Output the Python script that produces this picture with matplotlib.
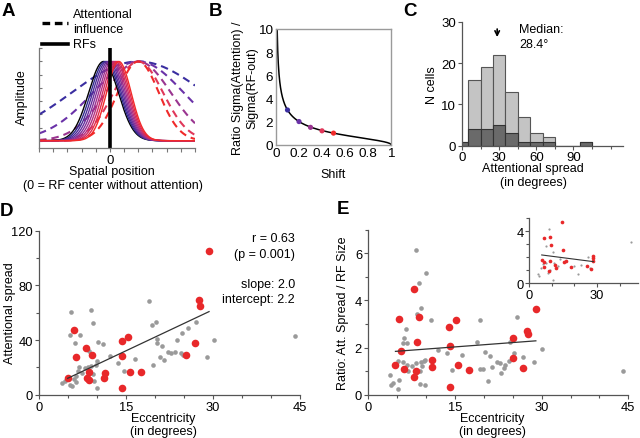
import numpy as np
import matplotlib
matplotlib.use('Agg')
import matplotlib.pyplot as plt
from matplotlib.lines import Line2D
from matplotlib.ticker import MultipleLocator

plt.rcParams['font.family'] = ['Liberation Sans', 'DejaVu Sans']
FS = 9.0
plt.rcParams['font.size'] = FS

# ---------------- data ----------------
# Panel A: model curves (gaussian parameters)
rf_centers = [-0.45, -0.33, -0.21, -0.09, 0.03, 0.15, 0.27, 0.39, 0.51, 0.63]
rf_sigmas = [1.05, 1.03, 1.01, 0.99, 0.97, 0.95, 0.93, 0.91, 0.89, 0.87]
rf_colors = ['#000000', '#2e2a8c', '#4a2c98', '#652e9c', '#80309a',
             '#9a3090', '#b52e7e', '#cc2c66', '#e22a4a', '#f22a2a']
att_centers = [2.0, 2.0, 2.0, 2.0, 2.0]
att_sigmas = [4.7, 3.2, 2.3, 1.75, 1.45]
att_colors = ['#3a2ea0', '#6a32a8', '#9a3590', '#e0385a', '#f02a2a']

# Panel B
shift_pts = [0.1, 0.2, 0.3, 0.4, 0.5]
ratio_pts = [3.0, 2.0, 1.5, 1.2, 1.0]

# Panel C
bin_centers = [0, 10, 20, 30, 40, 50, 60, 70, 80, 90, 100]
all_counts = [1, 16, 19, 22, 13, 7, 3, 2, 0, 0, 1]
sub_counts = [1, 4, 4, 5, 3, 1, 1, 1, 0, 0, 1]
median_spread = 28.4

# Panel D
red_ecc_D = [29.3, 27.6, 27.7, 26.8, 25.3, 6.0, 6.3, 4.9, 8.0, 9.1, 8.5,
             8.2, 8.5, 11.3, 11.2, 14.2, 14.3, 14.3, 15.3, 15.7, 17.6]
red_spread_D = [105.4, 69.3, 65.1, 37.6, 29.3, 47.3, 27.3, 12.2, 33.9, 28.8, 16.8,
                12.0, 11.0, 15.6, 12.2, 39.5, 28.5, 4.6, 42.0, 16.3, 16.8]
gray_ecc_D = [3.9, 4.4, 5.3, 5.7, 6.0, 6.3, 6.6, 6.9, 7.9, 8.4, 9.0, 9.3, 9.5,
              10.0, 9.8, 10.0, 8.6, 5.4, 8.9, 9.3, 5.3, 7.0, 6.1, 10.2, 11.0,
              12.2, 13.6, 14.6, 16.5, 19.0, 19.5, 20.1, 20.3, 20.4, 21.2, 20.9,
              21.6, 19.6, 22.3, 22.7, 23.4, 23.7, 24.6, 25.7, 27.0, 24.4, 24.8,
              28.9, 30.1, 44.2, 7.4, 6.4]
gray_spread_D = [8.3, 9.8, 7.3, 6.1, 11.5, 13.9, 17.1, 20.0, 19.5, 20.5, 21.2, 15.1, 10.2,
                 4.9, 22.0, 24.9, 32.2, 60.7, 62.0, 52.2, 43.9, 43.9, 38.0, 38.3, 37.1,
                 28.5, 23.2, 17.6, 26.1, 68.3, 51.0, 52.9, 40.7, 37.8, 35.4, 27.8,
                 25.4, 21.5, 31.5, 30.5, 31.5, 40.2, 45.1, 49.0, 52.9, 30.5, 29.0,
                 27.8, 40.2, 42.9, 16.0, 9.0]
slope_D = 2.0
intercept_D = 2.2

# Panel E
red_ecc_E = [29.0, 27.5, 27.6, 25.1, 25.1, 26.7, 7.9, 5.3, 8.8, 8.5, 5.7, 4.7,
             6.1, 8.3, 7.9, 11.1, 11.0, 14.0, 14.2, 15.1, 15.5, 17.4, 14.1]
red_ratio_E = [3.64, 2.72, 2.56, 2.42, 1.56, 1.13, 4.50, 3.20, 3.31, 2.24, 1.87, 1.25,
               1.08, 1.02, 0.74, 1.49, 1.19, 2.89, 2.08, 3.17, 1.26, 1.06, 0.31]
gray_ecc_E = [8.2, 10.0, 8.8, 9.1, 8.5, 10.9, 6.5, 6.2, 6.7, 6.0, 12.0, 13.6, 5.1,
              6.0, 6.7, 7.6, 8.3, 9.2, 9.7, 9.9, 9.3, 9.0, 6.9, 3.7, 5.3, 4.3, 3.9,
              5.1, 8.9, 9.8, 14.5, 16.3, 19.3, 25.8, 18.8, 24.5, 30.0, 20.2, 21.1,
              25.2, 26.8, 22.2, 22.8, 24.4, 23.7, 23.5, 22.9, 21.4, 19.9, 19.3,
              20.8, 28.7, 44.1]
gray_ratio_E = [6.14, 5.15, 4.74, 3.68, 3.43, 3.19, 2.79, 2.39, 2.18, 2.18, 1.91, 1.77, 1.42,
                1.37, 1.27, 1.22, 1.36, 1.37, 1.44, 1.47, 1.22, 0.99, 1.02, 0.84, 0.64, 0.48, 0.41,
                0.26, 0.45, 0.41, 1.05, 1.69, 3.17, 3.31, 2.25, 2.22, 1.94, 1.83, 1.66,
                1.77, 1.59, 1.40, 1.33, 1.44, 1.26, 1.12, 0.92, 1.19, 1.09, 1.09,
                0.59, 1.37, 1.02]
slope_E = 0.0184
intercept_E = 1.753

# Panel E inset
inset_red_x = [14.6, 6.3, 9.2, 9.6, 14.8, 5.5, 6.6, 9.2, 11.4, 11.8, 15.5, 16.3,
               18.4, 28.4, 28.4, 25.4, 27.4, 6.5, 8.7, 28.4]
inset_red_y = [4.69, 3.46, 3.54, 2.95, 2.56, 1.82, 1.66, 1.69, 1.41, 1.20, 1.66, 1.74,
               1.23, 2.12, 1.92, 1.31, 1.10, 1.28, 0.92, 1.75]
inset_gray_x = [8.7, 44.9, 10.6, 21.4, 10.4, 26.2, 4.0, 4.4, 5.0, 7.5, 9.0, 12.5,
                13.5, 20.0, 23.0, 27.0, 7.2, 6.0, 11.0, 8.2]
inset_gray_y = [4.18, 3.20, 2.38, 0.72, 0.28, 2.05, 0.72, 0.60, 1.20, 1.60, 1.00, 1.30,
                1.90, 1.30, 1.40, 1.20, 2.90, 1.50, 1.60, 0.80]
slope_inset = -0.0224
intercept_inset = 2.303

RED = '#e8282a'
GRAY = '#9a9a9a'
SPINE = '#555555'

# ---------------- figure ----------------
W, H = 640, 439
fig = plt.figure(figsize=(6.4, 4.39), dpi=100)


def ax_px(l, t, r, b):
    return fig.add_axes([l / W, 1 - b / H, (r - l) / W, (b - t) / H])


def ftext(x, y, s, **kw):
    kw.setdefault('fontsize', FS)
    fig.text(x / W, 1 - y / H, s, **kw)


def style_lb(ax, color=SPINE):
    for sp in ['top', 'right']:
        ax.spines[sp].set_visible(False)
    for sp in ['left', 'bottom']:
        ax.spines[sp].set_color(color)
        ax.spines[sp].set_linewidth(0.9)
    ax.tick_params(which='both', color=color, direction='out', width=0.8)
    ax.tick_params(which='major', length=3, pad=1.5)
    ax.tick_params(which='minor', length=2)


# Panel letters
for lbl, x, y in [('A', 2, 12), ('B', 209, 12), ('C', 403, 12), ('D', 0, 211), ('E', 337, 209)]:
    ftext(x, y, lbl, fontsize=13.5, fontweight='bold', va='center', ha='left')

# ---- Panel A ----
axA = ax_px(39, 49, 195, 149)
xs = np.linspace(-5, 6, 500)
for c, s, col in zip(att_centers, att_sigmas, att_colors):
    axA.plot(xs, np.exp(-(xs - c) ** 2 / (2 * s ** 2)), color=col, lw=1.5,
             dashes=(3.6, 2.4))
for c, s, col in zip(rf_centers, rf_sigmas, rf_colors):
    axA.plot(xs, np.exp(-(xs - c) ** 2 / (2 * s ** 2)), color=col, lw=1.0)
axA.axvline(0, color='k', lw=2.6)
axA.set_xlim(-5, 6)
axA.set_ylim(-0.092, 1.17)
style_lb(axA, '#777777')
axA.set_xticks(range(-5, 7))
axA.set_xticklabels(['' if v != 0 else '0' for v in range(-5, 7)])
axA.set_yticks(np.arange(0, 8) / 6)
axA.set_yticklabels([])
axA.tick_params(axis='y', direction='in', length=2.5)
axA.tick_params(axis='x', pad=1, labelsize=9.5)
ftext(22, 97, 'Amplitude', rotation=90, ha='center', va='center')
ftext(112, 172, 'Spatial position', ha='center', va='center')
ftext(113, 186, '(0 = RF center without attention)', ha='center', va='center')
# legend
fig.add_artist(Line2D([42 / W, 68 / W], [1 - 24 / H, 1 - 24 / H], color='k', lw=2.4,
                      dashes=(2.3, 1.4)))
fig.add_artist(Line2D([42 / W, 68 / W], [1 - 45 / H, 1 - 45 / H], color='k', lw=2.6))
ftext(73, 15, 'Attentional', va='center')
ftext(73, 30, 'influence', va='center')
ftext(73, 45, 'RFs', va='center')

# ---- Panel B ----
axB = ax_px(276, 30, 391, 145.7)
sh = np.linspace(0.0099, 1.0, 600)
axB.plot(sh, np.sqrt(1 / sh - 1), color='k', lw=1.1)
axB.scatter(shift_pts, ratio_pts, s=14, c=att_colors, zorder=3, linewidths=0)
axB.set_xlim(0, 1)
axB.set_ylim(0, 10)
for sp in axB.spines.values():
    sp.set_color('#9a9a9a')
    sp.set_linewidth(1.0)
axB.set_xticks([0, 0.2, 0.4, 0.6, 0.8, 1])
axB.set_xticklabels(['0', '0.2', '0.4', '0.6', '0.8', '1'])
axB.set_yticks(range(0, 11, 2))
axB.tick_params(length=0, pad=2, labelsize=9.7)
ftext(238, 88, 'Ratio Sigma(Attention) /', rotation=90, ha='center', va='center')
ftext(252, 88, 'Sigma(RF-out)', rotation=90, ha='center', va='center')
ftext(333, 175, 'Shift', ha='center', va='center')

# ---- Panel C ----
axC = ax_px(462, 22.7, 623, 146.7)
axC.bar(bin_centers, all_counts, width=10, color='#c4c4c4', edgecolor='#555555', linewidth=0.8)
axC.bar(bin_centers, sub_counts, width=10, color='#6a6a6a', edgecolor='#333333', linewidth=0.8)
axC.set_xlim(0, 130)
axC.set_ylim(0, 30)
style_lb(axC)
axC.set_xticks([0, 30, 60, 90])
axC.xaxis.set_minor_locator(MultipleLocator(15))
axC.set_yticks([0, 10, 20, 30])
axC.tick_params(axis='x', pad=1)
axC.tick_params(labelsize=9.5)
axC.annotate('', xy=(median_spread, 25.6), xytext=(median_spread, 28.9),
             arrowprops=dict(arrowstyle='->', color='k', lw=1.2, mutation_scale=8))
axC.text(46, 29.6, 'Median:\n28.4°', ha='left', va='top', linespacing=1.25)
ftext(432, 85, 'N cells', rotation=90, ha='center', va='center')
ftext(533, 169, 'Attentional spread', ha='center', va='center')
ftext(533, 183, '(in degrees)', ha='center', va='center')

# ---- Panel D ----
axD = ax_px(39.3, 231.7, 300, 395.7)
axD.scatter(gray_ecc_D, gray_spread_D, s=11, color=GRAY, linewidths=0, zorder=2)
axD.scatter(red_ecc_D, red_spread_D, s=30, color=RED, linewidths=0, zorder=3)
lx = np.array([min(red_ecc_D), max(red_ecc_D)])
axD.plot(lx, intercept_D + slope_D * lx, color='#333333', lw=0.9, zorder=4)
axD.set_xlim(0, 45)
axD.set_ylim(0, 120)
style_lb(axD)
axD.set_xticks([0, 15, 30, 45])
axD.xaxis.set_minor_locator(MultipleLocator(5))
axD.set_yticks([0, 40, 80, 120])
axD.yaxis.set_minor_locator(MultipleLocator(20))
axD.tick_params(labelsize=9.3)
ftext(295, 239, 'r = 0.63', ha='right', va='center')
ftext(295, 255, '(p = 0.001)', ha='right', va='center')
ftext(295, 285, 'slope: 2.0', ha='right', va='center')
ftext(295, 300, 'intercept: 2.2', ha='right', va='center')
ftext(10, 313, 'Attentional spread', rotation=90, ha='center', va='center')
ftext(163, 419, 'Eccentricity', ha='center', va='center')
ftext(163, 432, '(in degrees)', ha='center', va='center')

# ---- Panel E ----
axE = ax_px(368.3, 230.8, 628.3, 395.7)
axE.scatter(gray_ecc_E, gray_ratio_E, s=11, color=GRAY, linewidths=0, zorder=2)
axE.scatter(red_ecc_E, red_ratio_E, s=30, color=RED, linewidths=0, zorder=3)
lx = np.array([min(red_ecc_E), max(red_ecc_E)])
axE.plot(lx, intercept_E + slope_E * lx, color='#333333', lw=0.9, zorder=4)
axE.set_xlim(0, 45)
axE.set_ylim(0, 7)
style_lb(axE)
axE.set_xticks([0, 15, 30, 45])
axE.xaxis.set_minor_locator(MultipleLocator(5))
axE.set_yticks([0, 2, 4, 6])
axE.yaxis.set_minor_locator(MultipleLocator(1))
axE.tick_params(labelsize=9.3)
ftext(343, 313, 'Ratio: Att. Spread / RF Size', rotation=90, ha='center', va='center')
ftext(492, 419, 'Eccentricity', ha='center', va='center')
ftext(492, 432, '(in degrees)', ha='center', va='center')

# inset
axI = ax_px(529.3, 219.3, 637.6, 284.3)
axI.scatter(inset_gray_x, inset_gray_y, s=2.5, color=GRAY, linewidths=0, zorder=2)
axI.scatter(inset_red_x, inset_red_y, s=7, color=RED, linewidths=0, zorder=3)
lx = np.array([min(inset_red_x), max(inset_red_x)])
axI.plot(lx, intercept_inset + slope_inset * lx, color='#333333', lw=0.8, zorder=4)
axI.set_xlim(0, 48)
axI.set_ylim(0, 5)
style_lb(axI)
axI.set_xticks([0, 30])
axI.xaxis.set_minor_locator(MultipleLocator(10))
axI.set_yticks([0, 4])
axI.yaxis.set_minor_locator(MultipleLocator(1))
axI.tick_params(pad=1, labelsize=9.3)

fig.savefig('out.png', dpi=100)
